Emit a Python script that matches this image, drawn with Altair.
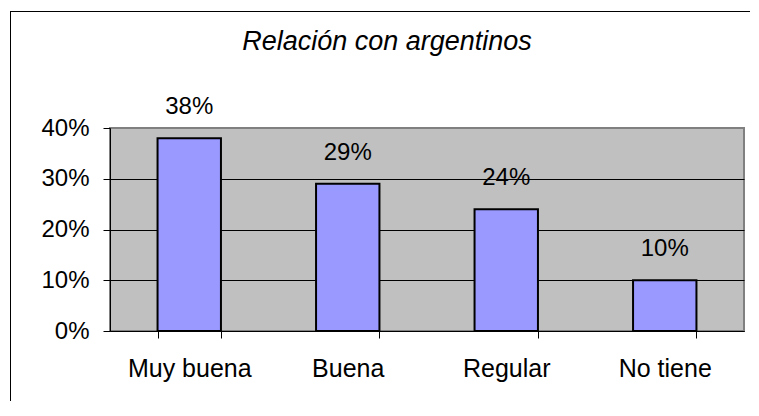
import altair as alt
import pandas as pd

categories = ["Muy buena", "Buena", "Regular", "No tiene"]
values = [0.38, 0.29, 0.24, 0.10]
labels = ["38%", "29%", "24%", "10%"]
y_ticks = [0, 0.1, 0.2, 0.3, 0.4]
title_text = "Relación con argentinos"

df = pd.DataFrame({"cat": categories, "val": values, "lab": labels})

FONT = "Liberation Sans"

x_enc = alt.X(
    "cat:N",
    sort=categories,
    title=None,
    scale=alt.Scale(paddingInner=0.6, paddingOuter=0.3),
    axis=alt.Axis(
        labelAngle=0,
        labelFontSize=25,
        labelFont=FONT,
        labelColor="black",
        labelBaseline="alphabetic",
        labelPadding=38,
        tickBand="extent",
        tickSize=7,
        tickColor="black",
        domainColor="black",
        grid=False,
    ),
)
y_enc = alt.Y(
    "val:Q",
    title=None,
    scale=alt.Scale(domain=[0, 0.4], nice=False),
    axis=alt.Axis(
        values=y_ticks,
        format=".0%",
        labelFontSize=24,
        labelFont=FONT,
        labelColor="black",
        labelPadding=14,
        tickSize=7,
        tickColor="black",
        domainColor="black",
        gridColor="black",
        gridOpacity={"condition": {"test": "datum.value >= 0.4", "value": 0}, "value": 1},
    ),
)

bars = alt.Chart(df).mark_bar(
    color="#9999FF", stroke="black", strokeWidth=2
).encode(x=x_enc, y=y_enc)

text = alt.Chart(df).mark_text(
    fontSize=24, font=FONT, color="black", baseline="alphabetic", dy=-24
).encode(x=alt.X("cat:N", sort=categories), y=alt.Y("val:Q"), text="lab:N")

one = pd.DataFrame({"t": [title_text]})

title = alt.Chart(one).mark_text(
    fontSize=27, font=FONT, fontStyle="italic", color="black",
    baseline="alphabetic", align="center", clip=False
).encode(x=alt.value(277), y=alt.value(-78), text="t:N")

border_top = alt.Chart(one).mark_rule(
    color="black", strokeWidth=1, clip=False
).encode(x=alt.value(-100), x2=alt.value(640), y=alt.value(-116.5))

border_left = alt.Chart(one).mark_rule(
    color="black", strokeWidth=1, clip=False
).encode(x=alt.value(-99.5), y=alt.value(-117), y2=alt.value(273))

chart = alt.layer(bars, text, title, border_top, border_left).properties(
    width=634,
    height=203,
    autosize=alt.AutoSizeParams(type="none"),
    padding={"left": 102, "top": 120, "right": 7, "bottom": 70},
).configure(background="white").configure_view(
    fill="#C0C0C0", stroke="#808080", strokeWidth=2
).configure_rule(strokeCap="butt")

chart.save("out.html", embed_options={"renderer": "svg", "actions": False})
